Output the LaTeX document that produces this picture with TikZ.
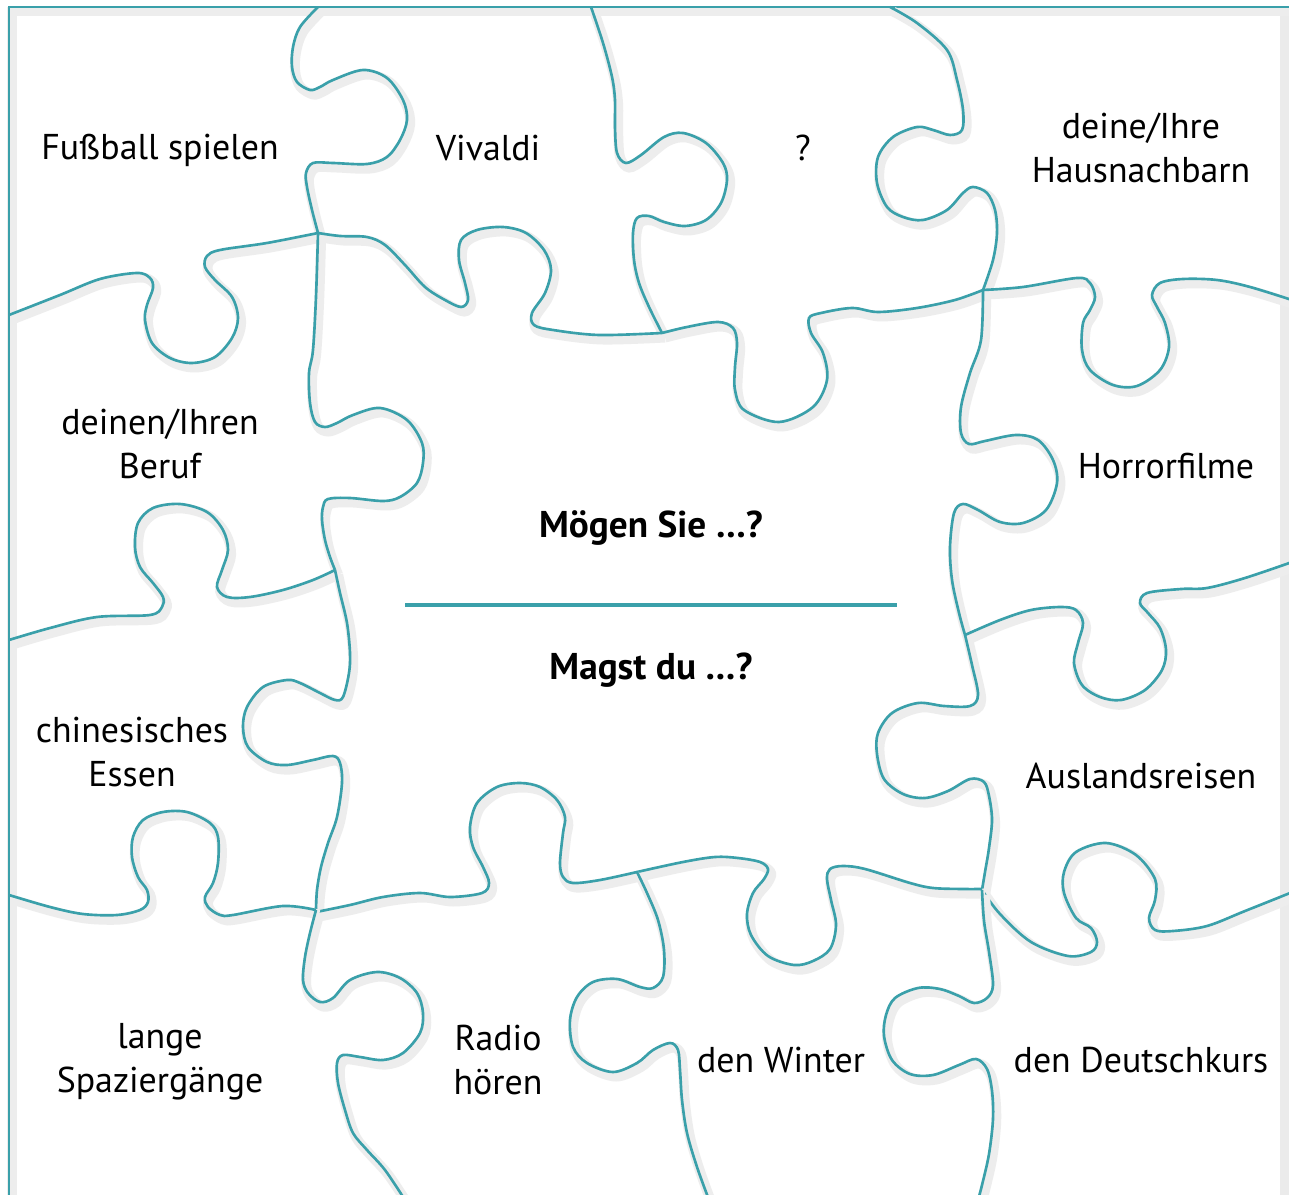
\documentclass[tikz,border=0pt]{standalone}
\usepackage{fontspec}
\setmainfont{PT Sans}
\definecolor{puzzle}{RGB}{58,160,170}
\begin{document}
\begin{tikzpicture}[x=0.01cm,y=-0.01cm,
  seam/.style={draw=puzzle,line width=0.75pt,
    preaction={draw=black!7,line width=2.8pt,transform canvas={shift={(0.9pt,-1.3pt)}}}},
  word/.style={align=center,font=\fontsize{10.2}{12.6}\selectfont,inner sep=0pt},
  smooth tension/.style={smooth,tension=0.55}]
\useasboundingbox (0,0) rectangle (1289,1195);
\clip (0,0) rectangle (1289,1195);
\fill[white] (0,0) rectangle (1289,1195);
% frame
\draw[black!8,line width=2.6pt] (1285,9) -- (1285,1200);
\draw[seam] (1295,7) -- (9,7) -- (9,1200);
% top row
\draw[seam] plot[smooth tension] coordinates {(318,7) (300,27) (293,47) (292,67) (297,82) (310,90) (320,87) (333,80) (363,70) (387,78) (403,100) (407,120) (400,140) (387,157) (367,164) (333,163) (313,163) (306,173) (307,187) (312,210) (318,233)};
\draw[seam] plot[smooth tension] coordinates {(591,7) (603,43) (612,77) (615,100) (615,127) (617,153) (626,163) (641,155) (664,137) (683,133) (706,143) (723,163) (727,180) (721,203) (706,220) (685,226) (664,222) (649,216) (637,218) (633,233) (634,260) (639,283) (649,307) (662,333)};
\draw[seam] plot[smooth tension] coordinates {(890,7) (917,23) (947,50) (957,80) (963,110) (962,130) (950,135) (933,130) (917,127) (893,137) (878,157) (877,183) (887,207) (903,217) (923,220) (947,210) (963,193) (973,187) (987,193) (995,210) (997,233) (993,260) (983,290)};
% first cut
\draw[seam] plot[smooth tension] coordinates {(9,315) (60,295) (100,279) (137,273) (150,278) (153,288) (147,305) (145,320) (152,343) (170,358) (192,363) (215,357) (232,338) (238,318) (232,297) (215,280) (205,267) (207,256) (220,250) (267,243) (318,233)};
\draw[seam] plot[smooth tension] coordinates {(318,233) (340,236) (367,237) (385,245) (405,265) (425,287) (445,300) (461,307) (468,300) (465,283) (459,260) (461,240) (477,230) (503,227) (526,233) (544,250) (551,270) (545,293) (532,313) (534,325) (553,330) (599,335) (662,333)};
\draw[seam] plot[smooth tension] coordinates {(662,333) (687,327) (718,322) (733,328) (737,343) (735,367) (735,390) (744,410) (779,422) (813,407) (827,380) (823,353) (811,333) (809,318) (821,313) (852,308) (878,312) (917,308) (955,300) (983,290)};
\draw[seam] plot[smooth tension] coordinates {(983,290) (1023,287) (1077,278) (1090,283) (1095,297) (1090,310) (1083,323) (1082,350) (1090,370) (1113,385) (1137,386) (1160,370) (1169,347) (1165,323) (1157,307) (1152,295) (1160,283) (1183,279) (1217,280) (1250,287) (1295,301)};
% left column
\draw[seam] plot[smooth tension] coordinates {(318,233) (316,297) (313,350) (309,373) (310,403) (315,422) (325,427) (337,423) (353,415) (380,408) (407,420) (422,443) (423,463) (417,483) (400,497) (383,501) (350,498) (328,499) (323,507) (322,520) (325,540) (330,557) (335,570)};
\draw[seam] plot[smooth tension] coordinates {(9,640) (50,628) (97,617) (150,615) (162,607) (163,597) (153,583) (140,567) (135,547) (138,523) (153,508) (180,504) (207,512) (223,530) (228,550) (222,570) (217,587) (227,597) (250,597) (283,590) (313,580) (335,570)};
\draw[seam] plot[smooth tension] coordinates {(335,570) (340,593) (347,623) (350,653) (349,673) (343,697) (335,700) (320,693) (300,683) (287,680) (263,687) (247,707) (243,727) (248,747) (267,762) (287,765) (313,760) (333,756) (340,763) (342,783) (337,817) (328,843) (321,867) (317,890) (316,910)};
% right column
\draw[seam] plot[smooth tension] coordinates {(983,290) (981,340) (970,373) (961,407) (961,433) (969,444) (985,441) (1016,435) (1038,440) (1053,460) (1057,483) (1046,510) (1023,523) (1000,522) (978,510) (963,504) (954,513) (950,547) (952,580) (959,613) (965,635)};
\draw[seam] plot[smooth tension] coordinates {(965,635) (1000,620) (1031,610) (1061,607) (1076,610) (1083,623) (1078,643) (1074,663) (1082,685) (1100,697) (1121,700) (1145,690) (1162,670) (1166,650) (1160,628) (1148,613) (1140,603) (1147,593) (1181,589) (1207,588) (1245,578) (1295,561)};
\draw[seam] plot[smooth tension] coordinates {(965,635) (972,665) (978,695) (970,706) (944,706) (918,703) (892,713) (878,733) (877,754) (884,779) (903,794) (925,798) (948,791) (970,779) (984,782) (989,796) (992,820) (989,848) (985,872) (982,890)};
% last cut
\draw[seam] plot[smooth tension] coordinates {(982,890) (1000,914) (1031,942) (1068,956) (1091,952) (1097,942) (1091,928) (1076,918) (1064,893) (1064,872) (1076,852) (1106,843) (1136,855) (1155,879) (1155,900) (1149,918) (1155,930) (1173,931) (1207,926) (1245,911) (1295,891)};
\draw[seam] plot[smooth tension] coordinates {(982,889) (963,889) (933,888) (910,883) (865,869) (843,866) (830,869) (827,879) (831,900) (836,925) (830,949) (813,961) (794,965) (768,956) (751,935) (747,914) (753,893) (764,879) (768,869) (760,862) (738,858) (715,857) (683,862) (637,872)};
\draw[seam] plot[smooth tension] coordinates {(637,872) (600,880) (573,883) (563,877) (560,863) (563,833) (565,817) (557,800) (540,787) (520,783) (497,787) (477,803) (470,827) (473,847) (483,867) (489,883) (482,893) (450,897) (420,893) (383,897) (350,905) (316,912)};
\draw[seam] plot[smooth tension] coordinates {(316,910) (283,906) (233,915) (220,915) (208,907) (205,897) (213,883) (218,863) (218,837) (210,823) (187,812) (163,812) (143,820) (133,837) (132,857) (138,877) (147,890) (148,902) (140,910) (117,915) (83,914) (50,907) (9,895)};
% bottom row
\draw[seam] plot[smooth tension] coordinates {(316,910) (310,933) (305,957) (303,980) (308,993) (320,1002) (333,998) (350,980) (377,972) (400,978) (417,993) (423,1013) (420,1033) (403,1053) (383,1060) (360,1057) (343,1055) (337,1063) (338,1083) (345,1110) (353,1133) (367,1150) (385,1170) (405,1200)};
\draw[seam] plot[smooth tension] coordinates {(637,872) (647,893) (658,920) (664,950) (663,977) (653,988) (640,987) (617,979) (593,982) (577,997) (570,1020) (573,1047) (587,1063) (613,1072) (637,1063) (653,1050) (670,1043) (678,1050) (680,1070) (682,1100) (687,1133) (697,1167) (709,1200)};
\draw[seam] plot[smooth tension] coordinates {(982,890) (984,921) (989,952) (993,985) (987,998) (974,1003) (959,996) (940,989) (918,988) (895,998) (886,1015) (884,1036) (892,1060) (910,1074) (933,1075) (959,1065) (976,1059) (987,1069) (992,1091) (993,1119) (989,1154) (982,1185) (978,1200)};
% centre piece
\node[word,font=\fontsize{10.6}{12.6}\selectfont\bfseries] (moegen) at (651,528) {Mögen Sie …?};
\node[word,font=\fontsize{10.6}{12.6}\selectfont\bfseries] (magst) at (651,670) {Magst du …?};
\coordinate (rule w) at (405,605);
\coordinate (rule e) at (897,605);
\draw[puzzle,line width=1pt] (rule w) -- (rule e);
% words
\node[word] (fussball) at (160,150) {Fußball spielen};
\node[word] (vivaldi) at (488,148) {Vivaldi};
\node[word] (frage) at (803,148) {?};
\node[word] (nachbarn) at (1141,148) {deine/Ihre\\Hausnachbarn};
\node[word] (beruf) at (160,444) {deinen/Ihren\\Beruf};
\node[word] (horror) at (1166,466) {Horrorfilme};
\node[word] (essen) at (132,752) {chinesisches\\Essen};
\node[word] (ausland) at (1141,776) {Auslandsreisen};
\node[word] (spazier) at (160,1062) {lange\\Spaziergänge};
\node[word] (radio) at (498,1060) {Radio\\hören};
\node[word] (winter) at (781,1060) {den Winter};
\node[word] (kurs) at (1141,1060) {den Deutschkurs};
\end{tikzpicture}
\end{document}
